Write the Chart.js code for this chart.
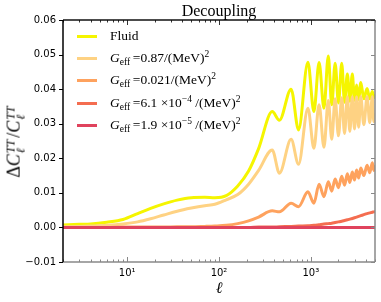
<!DOCTYPE html>
<html>
<head>
<meta charset="utf-8">
<script src="https://cdn.jsdelivr.net/npm/chart.js@4"></script>
<style>
  body { margin: 0; background: #fff; }
  #wrap { position: relative; width: 381px; height: 302px; }
  .txt { position: absolute; font-family: 'Liberation Serif', serif; color: #000; white-space: nowrap; line-height: 1; }
  #title { left: 219px; top: 3px; font-size: 16px; transform: translate(-50%, 0); }
  #xlabel { left: 219px; top: 280px; font-size: 16px; transform: translate(-50%, 0); }
  #ylabel { left: 15px; top: 141px; font-size: 18px; transform: translate(-50%, -50%) rotate(-90deg); }
  .ss { display: inline-flex; flex-direction: column; font-size: 12px; line-height: 10px; vertical-align: middle; margin-left: 1px; margin-right: 2px; }
  .row { position: absolute; left: 77px; height: 20px; display: flex; align-items: center; font-family: 'Liberation Serif', serif; font-size: 13.5px; white-space: nowrap; }
  .swatch { width: 20px; height: 3px; margin-right: 13px; }
  .row sub { font-size: 9.5px; vertical-align: -3px; line-height: 0; }
  .row sup { font-size: 9.5px; vertical-align: 5px; line-height: 0; }
</style>
</head>
<body>
<div id="wrap">
  <canvas id="chart" width="381" height="302"></canvas>
  <div class="txt" id="title">Decoupling</div>
  <div class="txt" id="xlabel"><i>ℓ</i></div>
  <div class="txt" id="ylabel">Δ<i>C</i><span class="ss"><i>TT</i><i>ℓ</i></span>/<i>C</i><span class="ss"><i>TT</i><i>ℓ</i></span></div>
  <div id="legend"></div>
</div>
<script>
// multipoles (shared grid: smooth part, then peaks / troughs)
var ell = [2, 3, 4, 6, 9, 13, 18, 25, 35, 50, 70, 90, 120, 160, 210, 270,
  380, 455, 610, 735, 930, 1080, 1230, 1390, 1550, 1690, 1840, 2000, 2170, 2330,
  2500, 2660, 2830, 2990, 3150, 3320, 3500, 3780, 4100, 4380, 4675, 4850, 5000]

var fluid = [0.0007, 0.0009, 0.0010, 0.0015, 0.0023, 0.0040, 0.0055, 0.0068, 0.0079, 0.0086, 0.0087, 0.0086, 0.0092, 0.0120, 0.0163, 0.0228,
  0.0335, 0.0310, 0.0400, 0.0282, 0.0478, 0.0335, 0.0477, 0.0345, 0.0496, 0.0355, 0.0475, 0.0360, 0.0475, 0.0362,
  0.0444, 0.0365, 0.0444, 0.0368, 0.0412, 0.0370, 0.0419, 0.0372, 0.0402, 0.0372, 0.0393, 0.0375, 0.0385]

var g087 = [0.0002, 0.0003, 0.0004, 0.0006, 0.0010, 0.0016, 0.0025, 0.0036, 0.0047, 0.0056, 0.0063, 0.0067, 0.0080, 0.0095, 0.0125, 0.0165,
  0.0224, 0.0157, 0.0255, 0.0183, 0.0345, 0.0229, 0.0355, 0.0232, 0.0367, 0.0255, 0.0372, 0.0265, 0.0375, 0.0272,
  0.0378, 0.0278, 0.0378, 0.0285, 0.0378, 0.0290, 0.0378, 0.0297, 0.0378, 0.0303, 0.0378, 0.0306, 0.0330]

var g0021 = [0, 0, 0, 0, 0.0001, 0.0001, 0.0001, 0.0001, 0.0002, 0.0002, 0.0003, 0.0004, 0.0006, 0.0011, 0.0019, 0.0030,
  0.0048, 0.0045, 0.0070, 0.0060, 0.0103, 0.0070, 0.0125, 0.0089, 0.0132, 0.0105, 0.0140, 0.0115, 0.0148, 0.0122,
  0.0155, 0.0130, 0.0160, 0.0137, 0.0166, 0.0143, 0.0172, 0.0150, 0.0180, 0.0158, 0.0187, 0.0165, 0.0180]

var g61e4 = [0, 0, 0, 0, 0, 0, 0, 0, 0, 0, 0, 0, 0, 0, 0, 0.0001,
  0.0001, 0.0002, 0.0003, 0.0004, 0.0005, 0.0006, 0.0008, 0.0010, 0.0011, 0.0012, 0.0014, 0.0016, 0.0018, 0.0020,
  0.0022, 0.0024, 0.0026, 0.0028, 0.0030, 0.0032, 0.0034, 0.0037, 0.0040, 0.0042, 0.0044, 0.0045, 0.0046]

var g19e5 = [0, 0, 0, 0, 0, 0, 0, 0, 0, 0, 0, 0, 0, 0, 0, 0,
  0, 0, 0, 0, 0, 0, 0, 0, 0, 0, 0, 0, 0, 0,
  0, 0, 0, 0, 0, 0, 0, 0, 0, 0, 0, 0, 0]

var seriesLabels = ['Fluid', 'Geff=0.87/(MeV)^2', 'Geff=0.021/(MeV)^2', 'Geff=6.1x10^-4/(MeV)^2', 'Geff=1.9x10^-5/(MeV)^2']
var legendHtml = [
  'Fluid',
  '<i>G</i><sub>eff</sub>&thinsp;=0.87/(MeV)<sup>2</sup>',
  '<i>G</i><sub>eff</sub>&thinsp;=0.021/(MeV)<sup>2</sup>',
  '<i>G</i><sub>eff</sub>&thinsp;=6.1 ×10<sup>−4</sup> /(MeV)<sup>2</sup>',
  '<i>G</i><sub>eff</sub>&thinsp;=1.9 ×10<sup>−5</sup> /(MeV)<sup>2</sup>'
]
var seriesColors = ['#f5f500', '#fed283', '#fea25e', '#f46d50', '#e0435d']
var seriesValues = [fluid, g087, g0021, g61e4, g19e5]

var xTicks = [10, 100, 1000]
var xTickLabels = ['10¹', '10²', '10³']
var yTicks = [-0.01, 0, 0.01, 0.02, 0.03, 0.04, 0.05, 0.06]

function line(ctx, x1, y1, x2, y2, color, w) {
  ctx.strokeStyle = color
  ctx.lineWidth = w || 1
  ctx.beginPath()
  ctx.moveTo(x1, y1)
  ctx.lineTo(x2, y2)
  ctx.stroke()
}

// cadre et graduations
var frameTicks = {
  id: 'frameTicks',
  afterDatasetsDraw(chart) {
    var ctx = chart.ctx, a = chart.chartArea, x = chart.scales.x, y = chart.scales.y
    ctx.save()
    yTicks.forEach(function (v) {
      var py = Math.round(y.getPixelForValue(v)) + 0.5
      line(ctx, a.left - 4, py, a.left, py, '#000')
      line(ctx, a.right - 4, py, a.right, py, '#888')
    })
    for (var d = 1; d <= 1000; d *= 10) {
      for (var k = 1; k <= 9; k++) {
        var v = d * k
        if (v < 2 || v > 5000) continue
        var px = Math.round(x.getPixelForValue(v)) + 0.5
        var len = (k == 1) ? 5 : 2.5
        line(ctx, px, a.bottom, px, a.bottom - len, '#888')
        line(ctx, px, a.top, px, a.top + len, '#333')
      }
    }
    line(ctx, a.left, a.bottom, a.right, a.bottom, '#888', 1.5)
    line(ctx, a.right, a.top, a.right, a.bottom, '#888', 1.5)
    line(ctx, a.left, a.top, a.right, a.top, '#111', 1.5)
    line(ctx, a.left, a.top, a.left, a.bottom, '#000', 1.5)
    ctx.restore()
  }
}

var datasets = seriesValues.map(function (vals, i) {
  return {
    label: seriesLabels[i],
    data: ell.map(function (l, j) { return { x: l, y: vals[j] } }),
    borderColor: seriesColors[i],
    borderWidth: 3,
    pointRadius: 0,
    cubicInterpolationMode: 'monotone',
    order: seriesValues.length - i
  }
})

var chart = new Chart(document.getElementById('chart'), {
  type: 'line',
  data: { datasets: datasets },
  options: {
    responsive: false,
    animation: false,
    devicePixelRatio: 1,
    layout: { padding: { left: 0, right: 6, top: 20, bottom: 0 } },
    plugins: { legend: { display: false }, tooltip: { enabled: false } },
    scales: {
      x: {
        type: 'logarithmic',
        min: 2,
        max: 5000,
        afterBuildTicks: function (s) { s.ticks = xTicks.map(function (v) { return { value: v } }) },
        afterFit: function (s) { s.height = 40 },
        grid: { display: false, drawTicks: false },
        border: { display: false },
        ticks: {
          autoSkip: false,
          maxRotation: 0,
          padding: 5,
          color: '#000',
          font: { family: 'DejaVu Sans', size: 10 },
          callback: function (v, i) { return xTickLabels[i] }
        }
      },
      y: {
        type: 'linear',
        min: -0.01,
        max: 0.06,
        afterBuildTicks: function (s) { s.ticks = yTicks.map(function (v) { return { value: v } }) },
        afterFit: function (s) { s.width = 63 },
        grid: { display: false, drawTicks: false },
        border: { display: false },
        ticks: {
          padding: 7,
          color: '#000',
          font: { family: 'DejaVu Sans', size: 10 },
          callback: function (v) { return v < 0 ? '\u2212' + Math.abs(v).toFixed(2) : v.toFixed(2) }
        }
      }
    }
  },
  plugins: [frameTicks]
})

// Légende
var rowsY = [36, 58, 80, 103, 125]
var legend = document.getElementById('legend')
legendHtml.forEach(function (h, i) {
  var row = document.createElement('div')
  row.className = 'row'
  row.style.top = (rowsY[i] - 10) + 'px'
  row.innerHTML = '<div class="swatch" style="background:' + seriesColors[i] + '"></div><span>' + h + '</span>'
  legend.appendChild(row)
})
</script>
</body>
</html>
